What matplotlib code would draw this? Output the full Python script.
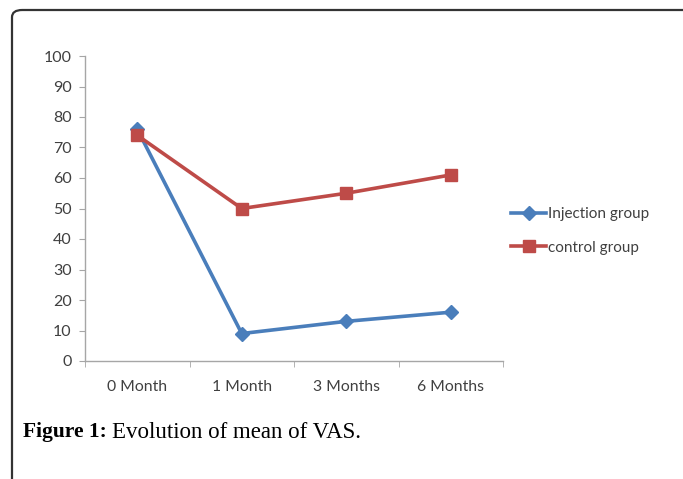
import matplotlib.pyplot as plt
from matplotlib.patches import FancyBboxPatch

# Data
categories = ['0 Month', '1 Month', '3 Months', '6 Months']
injection = [76, 9, 13, 16]
control = [74, 50, 55, 61]
y_ticks = list(range(0, 101, 10))

blue = '#4A7EBB'
red = '#BE4B48'
axis_gray = '#A6A6A6'
text_color = '#404040'

plt.rcParams['font.family'] = ['Lato', 'DejaVu Sans']

fig = plt.figure(figsize=(6.83, 4.79), dpi=100)
W, H = 683, 479

# outer frame: only top and left edges visible, rounded corner top-left
frame = FancyBboxPatch((12 / W, -0.2), 1.2, 0.2 + 1 - 10 / H,
                       boxstyle='round,pad=0,rounding_size=0.015',
                       transform=fig.transFigure, fill=False,
                       edgecolor='#333333', linewidth=1.6, clip_on=False)
fig.add_artist(frame)

ax = fig.add_axes([85 / W, 1 - 361 / H, (503 - 85) / W, (361 - 56) / H])

x = list(range(len(categories)))
ax.plot(x, injection, color=blue, linewidth=2.6, marker='D', markersize=7,
        label='Injection group', zorder=3)
ax.plot(x, control, color=red, linewidth=2.6, marker='s', markersize=8.5,
        label='control group', zorder=4)

ax.set_xlim(-0.5, len(categories) - 0.5)
ax.set_ylim(0, 100)
ax.set_yticks(y_ticks)
ax.set_xticks(x)
ax.set_xticklabels(categories)
ax.set_xticks([i - 0.5 for i in range(len(categories) + 1)], minor=True)

for side in ['top', 'right']:
    ax.spines[side].set_visible(False)
for side in ['left', 'bottom']:
    ax.spines[side].set_color(axis_gray)
    ax.spines[side].set_linewidth(1.0)

ax.tick_params(axis='y', direction='out', length=4.5, color=axis_gray,
               labelsize=11.5, labelcolor=text_color, pad=5)
ax.tick_params(axis='x', which='major', length=0, labelsize=11.3,
               labelcolor=text_color, pad=14)
ax.tick_params(axis='x', which='minor', direction='out', length=4.5,
               color=axis_gray)

fig.legend(*ax.get_legend_handles_labels(), loc='center left',
           bbox_to_anchor=(511 / W, 1 - 231 / H), frameon=False,
           fontsize=11, labelcolor=text_color, handlelength=2.3,
           handletextpad=0.1, labelspacing=1.25, borderaxespad=0,
           borderpad=0)

# caption: bold label followed by normal text
lbl = fig.text(23 / W, 1 - 432 / H, 'Figure 1:', family='Liberation Serif',
               fontweight='bold', fontsize=15.5, va='center', ha='left')
fig.canvas.draw()
bb = lbl.get_window_extent()
fig.text((bb.x1 + 5) / W, 1 - 432 / H, 'Evolution of mean of VAS.',
         family='Liberation Serif', fontsize=16.5, va='center', ha='left')

fig.savefig('out.png', dpi=100)
